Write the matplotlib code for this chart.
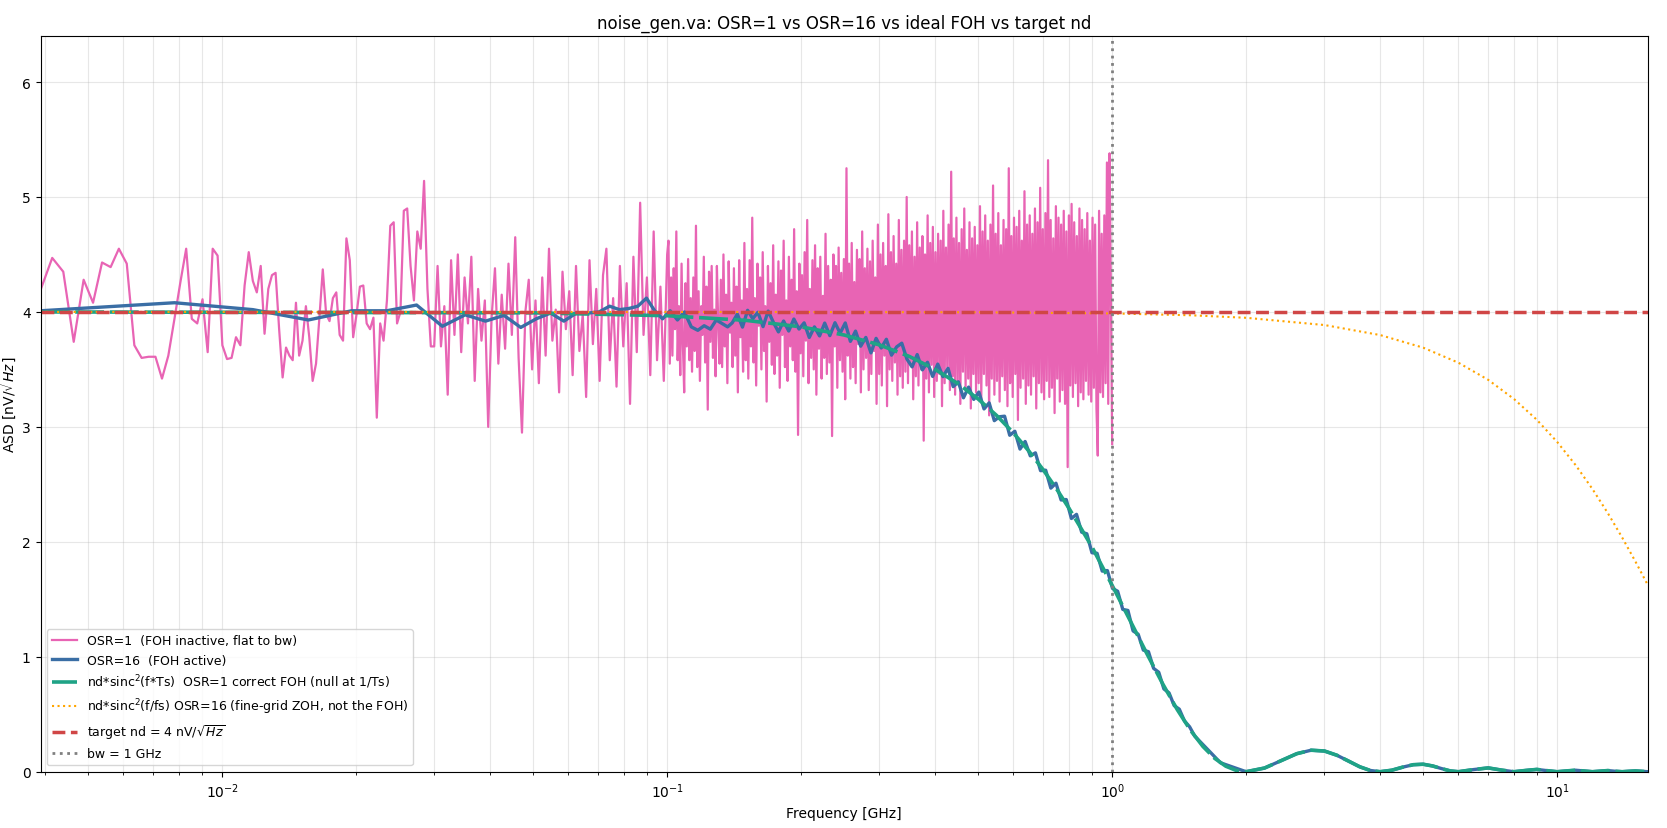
import numpy as np
import matplotlib
matplotlib.use("Agg")
import matplotlib.pyplot as plt

nd = 4.0   # target noise density [nV/sqrt(Hz)]
bw = 1.0   # GHz

# OSR=1 trace: first bins of the 1/4096 GHz grid (bin 16 .. 60)
osr1_first_bin = 16
osr1_lo = [4.19, 4.47, 4.35, 3.74, 4.28, 4.08, 4.43, 4.39, 4.55, 4.42,
           3.71, 3.60, 3.61, 3.61, 3.42, 3.62, 3.94, 4.26, 4.55, 3.94,
           3.90, 4.11, 3.65, 4.55, 4.49, 3.71, 3.59, 3.60, 3.78, 3.71,
           4.23, 4.52, 4.27, 4.17, 4.40, 3.81, 4.20, 4.32, 4.34, 3.85,
           3.43, 3.69, 3.62, 3.58, 4.08]
# OSR=1 trace, 0.0149 .. 0.1 GHz (log spaced)
osr1_mid = [3.62, 3.75, 4.05, 3.78, 3.40, 3.55, 3.95, 4.37, 3.98, 3.92,
            4.12, 4.17, 3.80, 3.75, 4.64, 4.45, 3.78, 3.98, 4.22, 4.23,
            3.90, 3.85, 3.95, 3.08, 3.90, 3.75, 4.10, 4.75, 4.78, 3.90,
            4.00, 4.88, 4.90, 4.40, 4.10, 4.70, 4.55, 5.14, 4.20, 3.70,
            3.70, 4.40, 3.70, 4.05, 3.28, 4.45, 3.80, 4.50, 3.65, 4.30,
            3.90, 4.48, 3.40, 4.20, 3.75, 4.10, 3.00, 3.95, 4.38, 3.55,
            4.15, 3.68, 4.42, 3.80, 4.65, 3.60, 2.95, 4.00, 4.28, 3.50,
            4.10, 3.38, 4.30, 3.62, 4.55, 3.75, 4.02, 3.30, 4.35, 3.85,
            4.18, 3.45, 4.40, 3.66, 3.98, 3.26, 4.45, 3.72, 4.20, 3.40,
            4.32, 4.55, 3.58, 4.12, 3.35, 4.40, 3.70, 4.25, 3.20, 4.48,
            3.65, 4.95, 3.80, 4.30, 3.45, 4.70, 3.58, 4.22, 3.40, 4.50]
# OSR=1 trace, 0.1 .. 1 GHz (log spaced)
osr1_hi = [4.62, 3.55, 4.30, 3.62, 4.38, 3.85, 4.70, 3.58, 4.05, 3.45, 4.42, 3.72, 3.30, 4.25, 3.70, 4.46, 3.58, 4.12, 3.48, 4.30,
           3.66, 4.75, 3.52, 4.18, 3.40, 4.05, 3.80, 4.48, 3.56, 4.22, 3.15, 4.35, 3.74, 4.40, 3.60, 4.02, 3.44, 4.40, 3.90, 3.55,
           4.28, 3.52, 4.50, 3.70, 4.15, 3.38, 4.44, 3.82, 4.08, 3.52, 4.38, 3.62, 4.22, 3.30, 4.45, 3.78, 4.10, 3.48, 4.60, 3.58,
           4.20, 3.42, 4.45, 3.70, 4.82, 3.56, 4.12, 3.36, 4.42, 3.88, 4.30, 3.50, 4.52, 3.66, 4.05, 3.22, 4.40, 3.74, 4.25, 3.54,
           4.58, 3.46, 4.15, 3.62, 4.44, 3.34, 4.36, 3.80, 4.62, 3.52, 4.10, 3.40, 4.48, 3.70, 4.28, 3.58, 4.72, 3.48, 4.18, 2.93,
           4.42, 3.64, 4.32, 3.44, 4.52, 3.75, 4.80, 3.38, 4.20, 3.60, 4.45, 3.50, 4.58, 3.28, 4.38, 3.68, 4.48, 3.42, 4.14, 3.60,
           4.68, 3.46, 4.40, 3.56, 4.28, 2.92, 4.50, 3.70, 4.40, 3.34, 4.56, 3.58, 4.34, 3.48, 4.46, 3.24, 5.25, 3.62, 4.42, 3.42,
           4.60, 3.52, 4.26, 3.38, 4.54, 3.72, 4.46, 3.30, 4.70, 3.50, 4.38, 3.60, 4.55, 3.32, 4.44, 3.46, 4.62, 3.66, 4.30, 3.20,
           4.76, 3.46, 4.50, 3.36, 4.60, 3.62, 4.40, 3.18, 4.85, 3.50, 4.52, 3.40, 4.66, 3.56, 4.42, 3.28, 4.80, 3.44, 4.54, 3.34,
           4.62, 3.48, 5.00, 3.38, 4.58, 3.56, 4.70, 3.24, 4.48, 3.44, 4.78, 3.36, 4.56, 3.50, 4.66, 2.88, 4.50, 3.42, 4.84, 3.30,
           4.60, 3.54, 4.74, 3.26, 4.52, 3.40, 4.68, 3.46, 4.62, 3.18, 4.88, 3.38, 4.56, 3.52, 4.76, 3.32, 5.22, 3.44, 4.64, 3.28,
           4.82, 3.40, 4.60, 3.20, 4.72, 3.48, 4.90, 3.34, 4.54, 3.42, 4.78, 3.16, 4.64, 3.46, 4.74, 3.30, 4.58, 3.38, 4.92, 3.24,
           4.70, 3.46, 4.84, 3.36, 4.62, 3.10, 4.76, 3.42, 5.10, 3.28, 4.68, 3.40, 4.86, 3.22, 4.58, 3.44, 4.80, 3.32, 4.72, 3.18,
           5.25, 3.38, 4.66, 3.26, 4.82, 3.46, 4.74, 3.06, 4.88, 3.34, 4.62, 3.42, 5.05, 3.20, 4.76, 3.36, 4.84, 3.28, 4.68, 3.44,
           4.90, 3.16, 4.78, 3.38, 5.08, 3.30, 4.72, 3.24, 4.86, 3.40, 5.32, 3.26, 4.80, 3.34, 4.64, 3.12, 4.92, 3.42, 4.82, 3.22,
           4.76, 3.32, 4.88, 3.20, 4.70, 2.65, 4.84, 3.36, 4.94, 3.26, 4.78, 3.38, 4.66, 3.18, 4.90, 3.30, 4.80, 3.24, 4.72, 3.40,
           4.86, 3.28, 4.62, 3.22, 4.82, 3.34, 4.76, 3.16, 2.75, 4.88, 3.30, 4.68, 3.26, 4.84, 3.38, 5.30, 3.20, 5.38, 4.20, 2.85]

# OSR=16 trace: bins 1..35 of the 1/256 GHz grid, then 0.14 .. 2 GHz (log spaced)
osr16_lo = [4.01, 4.08, 4.02, 3.93, 4.01, 4.01, 4.06, 3.875, 3.975, 3.92,
            3.97, 3.865, 3.94, 3.99, 3.92, 3.99, 3.99, 4.00, 4.05, 4.02,
            4.03, 4.05, 4.12, 4.01, 3.94, 4.01, 3.93, 4.00, 3.87, 3.84,
            3.88, 3.85, 3.93, 3.90, 3.87]
osr16_hi = [3.905, 3.981, 3.868, 4.014, 3.941, 3.997, 3.872, 4.007, 3.911, 3.826,
            3.921, 3.834, 3.938, 3.851, 3.905, 3.778, 3.870, 3.791, 3.903, 3.794,
            3.906, 3.815, 3.904, 3.744, 3.833, 3.702, 3.778, 3.644, 3.770, 3.686,
            3.762, 3.624, 3.696, 3.728, 3.590, 3.522, 3.629, 3.496, 3.562, 3.439,
            3.546, 3.437, 3.509, 3.350, 3.392, 3.253, 3.346, 3.239, 3.303, 3.156,
            3.209, 3.054, 3.088, 3.093, 2.927, 2.962, 2.807, 2.873, 2.748, 2.774,
            2.619, 2.623, 2.467, 2.510, 2.364, 2.368, 2.203, 2.239, 2.084, 2.070,
            1.905, 1.900, 1.745, 1.750, 1.595, 1.570, 1.412, 1.403, 1.225, 1.196,
            1.058, 1.044, 0.899, 0.865, 0.720, 0.686, 0.575, 0.544, 0.442, 0.391,
            0.310, 0.264, 0.217, 0.171, 0.124, 0.078, 0.062, 0.047, 0.031, 0.016,
            0.000]

# nd*sinc^2(f*Ts), Ts = 0.5 ns
foh_f = [1/256, 0.05, 0.10, 0.15, 0.20, 0.25, 0.30, 0.35, 0.40, 0.45, 0.50,
         0.55, 0.60, 0.65, 0.70, 0.75, 0.80, 0.85, 0.90, 0.95, 1.00,
         1.1, 1.2, 1.3, 1.4, 1.5, 1.6, 1.7, 1.8, 1.9, 2.0,
         2.2, 2.4, 2.6, 2.8, 3.0, 3.2, 3.4, 3.6, 3.8, 4.0,
         4.25, 4.5, 4.75, 5.0, 5.25, 5.5, 5.75, 6.0,
         6.5, 7.0, 7.5, 8.0, 8.5, 9.0, 9.5, 10.0, 10.5, 11.0, 11.5, 12.0,
         12.5, 13.0, 13.5, 14.0, 14.5, 15.0, 15.5, 16.0]
foh_v = [4.000, 3.992, 3.967, 3.927, 3.870, 3.799, 3.713, 3.613, 3.500, 3.377, 3.242,
         3.099, 2.947, 2.789, 2.626, 2.460, 2.291, 2.121, 1.958, 1.785, 1.621,
         1.307, 1.018, 0.762, 0.541, 0.360, 0.219, 0.116, 0.048, 0.011, 0.000,
         0.032, 0.097, 0.157, 0.187, 0.180, 0.143, 0.092, 0.043, 0.011, 0.000,
         0.013, 0.040, 0.061, 0.065, 0.050, 0.027, 0.007, 0.000,
         0.019, 0.033, 0.014, 0.000, 0.011, 0.020, 0.009, 0.000, 0.007, 0.013, 0.006, 0.000,
         0.005, 0.010, 0.004, 0.000, 0.004, 0.007, 0.003, 0.000]

# nd*sinc^2(f/fs), fs = 32 GHz
zoh_f = [1/256, 0.1, 0.5, 1, 1.5, 2, 3, 4, 5, 6, 7, 8, 9, 10, 11, 12, 13, 14, 15, 16]
zoh_v = [4.000, 4.000, 3.997, 3.987, 3.971, 3.949, 3.886, 3.799, 3.689, 3.558,
         3.409, 3.242, 3.062, 2.869, 2.668, 2.460, 2.249, 2.037, 1.827, 1.621]

# frequency axes of the two traces
f1 = np.concatenate([
    np.arange(osr1_first_bin, osr1_first_bin + len(osr1_lo)) / 4096,
    np.geomspace(61 / 4096, 0.1, len(osr1_mid)),
    np.geomspace(0.1, bw, len(osr1_hi) + 1)[1:],
])
v1 = np.array(osr1_lo + osr1_mid + osr1_hi)

foh_f = np.array(foh_f)
foh_v = np.array(foh_v)
f16 = np.concatenate([
    np.arange(1, len(osr16_lo) + 1) / 256,
    np.geomspace(0.14, 2.0, len(osr16_hi)),
    foh_f[foh_f > 2.0],
])
v16 = np.concatenate([osr16_lo, osr16_hi, foh_v[foh_f > 2.0]])

fig, ax = plt.subplots(figsize=(16.67, 8.29), dpi=100)

ax.plot(f1, v1, color="#e864b4", lw=1.6, label="OSR=1  (FOH inactive, flat to bw)")
ax.plot(f16, v16, color="#3a6ea5", lw=2.4, label="OSR=16  (FOH active)")
ax.plot(foh_f, foh_v, color="#1fa386", lw=2.6, ls=(0, (8, 1.6)),
        label=r"nd*sinc$^2$(f*Ts)  OSR=1 correct FOH (null at 1/Ts)")
ax.plot(zoh_f, zoh_v, color="orange", lw=1.5, ls=":",
        label=r"nd*sinc$^2$(f/fs) OSR=16 (fine-grid ZOH, not the FOH)")
ax.axhline(nd, color="#d04646", lw=2.5, ls="--", label=r"target nd = 4 nV/$\sqrt{Hz}$")
ax.axvline(bw, color="gray", lw=2.0, ls=":", label="bw = 1 GHz")

ax.set_xscale("log")
ax.set_xlim(1 / 256, 16)
ax.set_ylim(0, 1.6 * nd)
ax.grid(True, which="both", alpha=0.3)
ax.set_xlabel("Frequency [GHz]")
ax.set_ylabel(r"ASD [nV/$\sqrt{Hz}$]", labelpad=2)
ax.set_title("noise_gen.va: OSR=1 vs OSR=16 vs ideal FOH vs target nd")
ax.legend(loc="lower left", fontsize=9)

fig.subplots_adjust(left=0.0243, right=0.9886, top=0.9553, bottom=0.0679)
fig.savefig("out.png", dpi=100)
